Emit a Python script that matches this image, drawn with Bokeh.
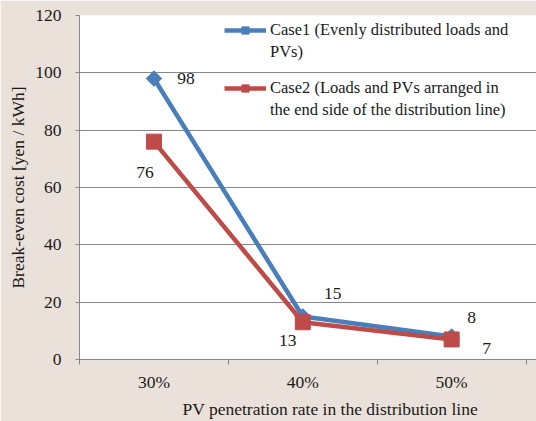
from bokeh.plotting import figure
from bokeh.models import Range1d, FixedTicker, Legend, LegendItem, ColumnDataSource, Title
from bokeh.core.properties import value
from bokeh.embed import file_html
from bokeh.resources import INLINE

categories = ["30%", "40%", "50%"]
case1 = [98, 15, 8]
case2 = [76, 13, 7]
case1_lines = ["Case1 (Evenly distributed loads and", "PVs)"]
case2_lines = ["Case2 (Loads and PVs arranged in", "the end side of the distribution line)"]
y_ticks = [0, 20, 40, 60, 80, 100, 120]
x_title = "PV penetration rate in the distribution line"
y_title = "Break-even cost [yen / kWh]"

FONT = "Times New Roman"
BG = "#EBE1DB"
BLUE = "#4A7EBB"
RED = "#BE4B48"
GRAY = "#878787"
TXT = "#1a1a1a"

xs = list(range(len(categories)))

p = figure(frame_width=457, frame_height=344, output_backend="svg", toolbar_location=None,
           x_range=Range1d(-0.5, 2.57), y_range=Range1d(0, 120),
           min_border_left=79, min_border_right=0, min_border_top=15, min_border_bottom=62)
p.border_fill_color = BG
p.background_fill_color = "white"
p.outline_line_color = None

# axes
p.xaxis.ticker = FixedTicker(ticks=xs, minor_ticks=[-0.5, 0.5, 1.5, 2.5])
p.xaxis.major_label_overrides = {i: c for i, c in zip(xs, categories)}
p.xaxis.major_tick_line_color = None
p.xaxis.major_tick_out = 0
p.xaxis.major_tick_in = 0
p.xaxis.minor_tick_line_color = GRAY
p.xaxis.minor_tick_out = 5
p.xaxis.minor_tick_in = 0
p.xaxis.axis_line_color = GRAY
p.xaxis.major_label_standoff = 7

p.yaxis.ticker = FixedTicker(ticks=y_ticks, minor_ticks=[])
p.yaxis.major_tick_line_color = GRAY
p.yaxis.major_tick_out = 4
p.yaxis.major_tick_in = 0
p.yaxis.axis_line_color = GRAY
p.yaxis.major_label_standoff = 14
p.yaxis.axis_label = y_title
p.yaxis.axis_label_standoff = 4

for ax in (p.xaxis[0], p.yaxis[0]):
    ax.major_label_text_font = FONT
    ax.major_label_text_font_size = "17.5px"
    ax.major_label_text_color = TXT
    ax.axis_label_text_font = FONT
    ax.axis_label_text_font_size = "17.5px"
    ax.axis_label_text_font_style = "normal"
    ax.axis_label_text_color = TXT

# x-axis title placed as a below-title so it can sit right of centre like the original
p.add_layout(Title(text=x_title, align="left", offset=103, standoff=4,
                   text_font=FONT, text_font_size="17.5px", text_font_style="normal",
                   text_color=TXT), "below")

p.xgrid.grid_line_color = None
p.ygrid.grid_line_color = GRAY
p.ygrid.grid_line_width = 1

src = ColumnDataSource(dict(x=xs, c1=case1, c2=case2,
                            l1=[str(v) for v in case1], l2=[str(v) for v in case2]))

r1l = p.line("x", "c1", source=src, line_color=BLUE, line_width=4.5)
r1m = p.scatter("x", "c1", source=src, marker="square", angle=0.785398, size=11,
                fill_color=BLUE, line_color=BLUE)
r2l = p.line("x", "c2", source=src, line_color=RED, line_width=4.5)
r2m = p.scatter("x", "c2", source=src, marker="square", size=15,
                fill_color=RED, line_color=RED)

# data labels (offsets in px per point)
off1 = [(32, 0), (30, -23), (20, -19)]
off2 = [(-9, 31), (-15, 18), (35, 9)]
for series, labels, offs in (("c1", "l1", off1), ("c2", "l2", off2)):
    for i, (dx, dy) in enumerate(offs):
        sub = ColumnDataSource(dict(x=[src.data["x"][i]], y=[src.data[series][i]],
                                    t=[src.data[labels][i]]))
        p.text("x", "y", text="t", source=sub, x_offset=dx, y_offset=dy,
               text_align="center", text_baseline="middle",
               text_font=value(FONT), text_font_size="17.5px", text_color=TXT)

# legends: one per case, second text line as a glyph-less item
def make_legend(lines, rends, loc):
    items = [LegendItem(label=lines[0], renderers=rends),
             LegendItem(label=lines[1], renderers=[])]
    return Legend(items=items, location=loc, orientation="vertical",
                  background_fill_alpha=0, border_line_color=None,
                  label_text_font=FONT, label_text_font_size="16.5px",
                  label_text_color=TXT, glyph_width=42, glyph_height=18,
                  spacing=2, padding=0, label_standoff=4, margin=0,
                  label_height=18)

p.add_layout(make_legend(case1_lines, [r1l, r1m], (145, 297)))
p.add_layout(make_legend(case2_lines, [r2l, r2m], (145, 239)))

open("out.html", "w").write(file_html(p, INLINE))
